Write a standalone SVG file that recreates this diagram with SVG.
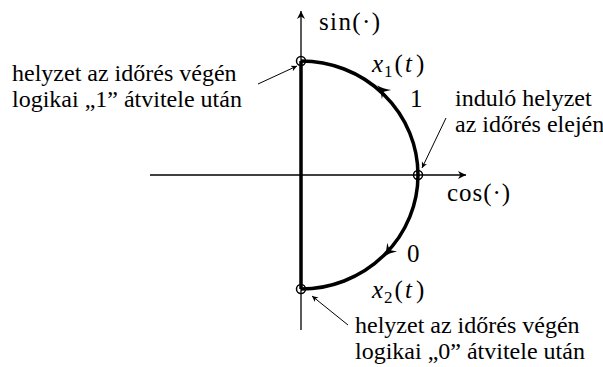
<svg xmlns="http://www.w3.org/2000/svg" width="603" height="367" viewBox="0 0 603 367">
<defs>
<style>
.axis{stroke:#000;stroke-width:1.3;fill:none}
.thick{stroke:#000;stroke-width:3.5;fill:none}
.ptr{stroke:#000;stroke-width:1;fill:none}
.pt{stroke:#000;stroke-width:1.5;fill:none}
</style>
<marker id="ah" viewBox="0 0 10 10" refX="10" refY="5" markerWidth="10" markerHeight="8" markerUnits="userSpaceOnUse" orient="auto"><path d="M0,0 L10,5 L0,10 L3,5 z" fill="#000"/></marker>
<marker id="sh" viewBox="0 0 10 10" refX="10" refY="5" markerWidth="8" markerHeight="6" markerUnits="userSpaceOnUse" orient="auto"><path d="M0,0 L10,5 L0,10 L3,5 z" fill="#000"/></marker>
<marker id="bh" viewBox="0 0 10 10" refX="6" refY="5" markerWidth="16" markerHeight="13" markerUnits="userSpaceOnUse" orient="auto"><path d="M0,0 Q5,4 10,5 Q5,6 0,10 L3,5 z" fill="#000"/></marker>
</defs>
<g id="connectors">
<line class="axis" x1="301" y1="330" x2="301" y2="11" marker-end="url(#ah)"/>
<line class="axis" x1="150" y1="175" x2="466" y2="175" marker-end="url(#ah)"/>
<line class="thick" x1="301" y1="61" x2="301" y2="289"/>
<path class="thick" d="M418,175 A117,114 0 0 0 301,61"/>
<path class="thick" d="M418,175 A117,114 0 0 1 301,289"/>
<path d="M389,97 L381,89" stroke="none" fill="none" marker-end="url(#bh)"/>
<path d="M394,245 L387,253" stroke="none" fill="none" marker-end="url(#bh)"/>
<line class="ptr" x1="258" y1="84" x2="297" y2="66" marker-end="url(#sh)"/>
<line class="ptr" x1="446" y1="118" x2="422" y2="168" marker-end="url(#sh)"/>
<line class="ptr" x1="348" y1="325" x2="312" y2="296" marker-end="url(#sh)"/>
</g>
<g id="points">
<circle class="pt" cx="301" cy="61" r="4.5"/>
<circle class="pt" cx="418" cy="175" r="4.5"/>
<circle class="pt" cx="301" cy="289" r="4.5"/>
</g>
<g id="labels" fill="#000">
<text x="319" y="30" font-family="'Liberation Serif', serif" font-size="25" textLength="61" lengthAdjust="spacing">sin(·)</text>
<text x="447" y="201" font-family="'Liberation Serif', serif" font-size="25" textLength="63" lengthAdjust="spacing">cos(·)</text>
<text x="372" y="72" font-family="'Liberation Serif', serif" font-size="25"><tspan font-style="italic">x</tspan><tspan font-size="17" dy="5" dx="1">1</tspan><tspan dy="-5" dx="2">(</tspan><tspan font-style="italic" dx="2">t</tspan><tspan dx="4">)</tspan></text>
<text x="372" y="298" font-family="'Liberation Serif', serif" font-size="25"><tspan font-style="italic">x</tspan><tspan font-size="17" dy="5" dx="1">2</tspan><tspan dy="-5" dx="2">(</tspan><tspan font-style="italic" dx="2">t</tspan><tspan dx="4">)</tspan></text>
<text x="410" y="107" font-family="'Liberation Serif', serif" font-size="25">1</text>
<text x="407" y="262" font-family="'Liberation Serif', serif" font-size="25">0</text>
<text x="12" y="81" font-family="'Liberation Serif', serif" font-size="24">helyzet az időrés végén</text>
<text x="12" y="107" font-family="'Liberation Serif', serif" font-size="24">logikai „1” átvitele után</text>
<text x="455" y="106" font-family="'Liberation Serif', serif" font-size="24">induló helyzet</text>
<text x="455" y="132" font-family="'Liberation Serif', serif" font-size="24">az időrés elején</text>
<text x="355" y="333" font-family="'Liberation Serif', serif" font-size="24">helyzet az időrés végén</text>
<text x="355" y="359" font-family="'Liberation Serif', serif" font-size="24">logikai „0” átvitele után</text>
</g>
</svg>
